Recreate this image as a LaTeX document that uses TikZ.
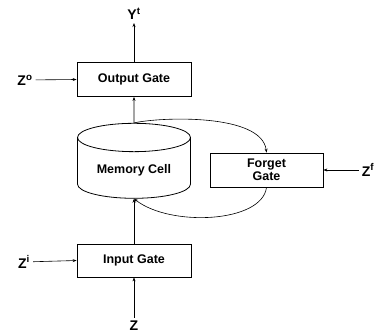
\documentclass[tikz,border=0pt]{standalone}
\usepackage{fontspec}
\setmainfont{Liberation Sans}
\usetikzlibrary{shapes.geometric,arrows.meta}
\begin{document}
\begin{tikzpicture}[x=1pt,y=1pt,
      gate/.style={draw,thick,rectangle,minimum width=114pt,minimum height=34pt,
        font=\fontsize{12.5}{13.5}\selectfont\bfseries},
      cell/.style={draw,thick,cylinder,shape border rotate=90,aspect=0.35,
        minimum width=113pt,minimum height=75pt,
        font=\fontsize{12.5}{13.5}\selectfont\bfseries},
      lbl/.style={font=\fontsize{14}{15}\selectfont\bfseries,inner sep=3pt},
      flow/.style={-{Stealth[length=4pt,width=3pt]},semithick},
    ]
    \useasboundingbox (0,0) rectangle (388,335);
    \node[gate] (output) at (134,255.5) {Output Gate};
    \node[cell] (mem) at (134,164.5) {Memory Cell};
    \node[gate,minimum width=113pt,align=center] (forget) at (266.5,165)
      {Forget\\Gate};
    \node[gate,minimum height=33pt] (input) at (134,74.5) {Input Gate};
    \node[lbl] (yt) at (134,321) {Y\textsuperscript{t}};
    \node[lbl] (zo) at (25,255) {Z\textsuperscript{o}};
    \node[lbl] (zf) at (368,165) {Z\textsuperscript{f}};
    \node[lbl] (zi) at (24,73) {Z\textsuperscript{i}};
    \node[lbl] (z) at (134,9) {Z};
    % straight arrows
    \draw[flow] (z) -- (input);
    \draw[flow] (input) -- (mem.south);
    \draw[flow] (mem.north) -- (output);
    \draw[flow] (output) -- (yt);
    \draw[flow] (zo) -- (output.west);
    \draw[flow] (zi) -- (input.west);
    \draw[flow] (zf) -- (forget.east);
    % loop through the forget gate
    \draw[flow] (mem.north) .. controls (160,218) and (262,222) .. (forget.north);
    \draw[flow] (forget.south) .. controls (262,112) and (170,108) .. (mem.south);
  \end{tikzpicture}
\end{document}
